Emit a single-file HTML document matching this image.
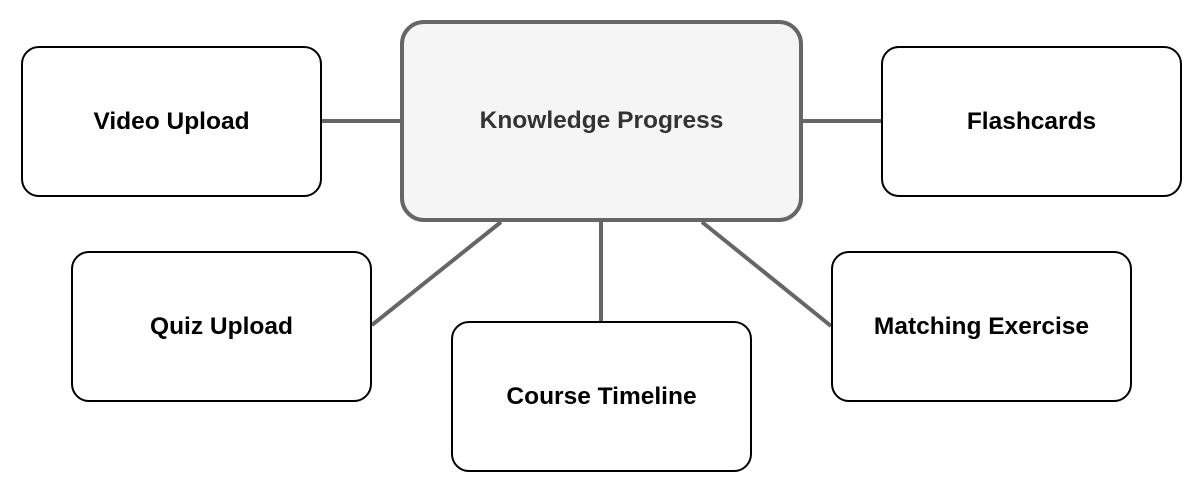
<!DOCTYPE html>
<html><head><meta charset="utf-8"><style>
body{margin:0;width:1203px;height:493px;background:#fff;overflow:hidden;position:relative;font-family:"Liberation Sans",Arial,sans-serif}
.b{position:absolute;box-sizing:border-box;border:2px solid #000;border-radius:18px;background:#fff;display:flex;align-items:center;justify-content:center;font-weight:bold;font-size:24.5px;color:#000}
svg{position:absolute;left:0;top:0}
</style></head><body>
<svg width="1203" height="493"><g stroke="#666" stroke-width="4" fill="none">
<line x1="321" y1="121" x2="402" y2="121"/>
<line x1="801" y1="121" x2="881" y2="121"/>
<line x1="372" y1="325" x2="501" y2="222"/>
<line x1="601" y1="220" x2="601" y2="321"/>
<line x1="702" y1="222" x2="831" y2="326"/>
</g></svg>
<div class="b" style="left:21px;top:46px;width:301px;height:151px">Video Upload</div>
<div class="b" style="left:400px;top:20px;width:403px;height:202px;border:4px solid #666;background:#f5f5f5;color:#333;border-radius:24px">Knowledge Progress</div>
<div class="b" style="left:881px;top:46px;width:301px;height:151px">Flashcards</div>
<div class="b" style="left:71px;top:251px;width:301px;height:151px">Quiz Upload</div>
<div class="b" style="left:451px;top:321px;width:301px;height:151px">Course Timeline</div>
<div class="b" style="left:831px;top:251px;width:301px;height:151px">Matching Exercise</div>
</body></html>
